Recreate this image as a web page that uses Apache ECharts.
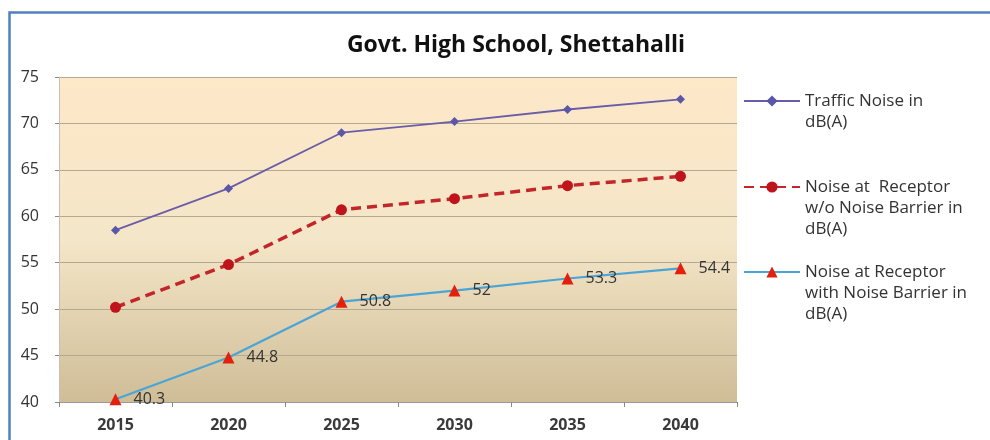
<!DOCTYPE html>
<html>
<head>
<meta charset="utf-8">
<script src="https://cdn.jsdelivr.net/npm/echarts@6/dist/echarts.min.js"></script>
<style>
  html, body { margin: 0; padding: 0; background: #fff; }
  #chart { width: 990px; height: 440px; }
</style>
</head>
<body>
<div id="chart"></div>
<script>
var years = ['2015', '2020', '2025', '2030', '2035', '2040'];
var trafficNoise = [58.5, 63.0, 69.0, 70.2, 71.5, 72.6];
var noWithoutBarrier = [50.2, 54.8, 60.7, 61.9, 63.3, 64.3];
var noWithBarrier = [40.3, 44.8, 50.8, 52, 53.3, 54.4];
var seriesNames = [
  'Traffic Noise in dB(A)',
  'Noise at  Receptor w/o Noise Barrier in dB(A)',
  'Noise at Receptor with Noise Barrier in dB(A)'
];
var legendLines = [
  ['Traffic Noise in', 'dB(A)'],
  ['Noise at  Receptor', 'w/o Noise Barrier in', 'dB(A)'],
  ['Noise at Receptor', 'with Noise Barrier in', 'dB(A)']
];

var myChart = echarts.init(document.getElementById('chart'));
var font = '"Open Sans", "Liberation Sans", sans-serif';
var LH = 21;

// legend text is centred on the icon, so pad with blank lines on top
// to bring the first line level with the icon
function makeLegend(i, iconY) {
  var lines = legendLines[i];
  var blanks = [];
  for (var k = 0; k < lines.length - 1; k++) blanks.push('');
  var total = blanks.length + lines.length;
  return {
    orient: 'vertical',
    left: 743,
    top: iconY - total * LH / 2,
    padding: 0,
    itemWidth: 56,
    itemHeight: 14,
    data: [seriesNames[i]],
    formatter: function () { return blanks.concat(lines).join('\n'); },
    textStyle: {
      fontFamily: font,
      fontSize: 17,
      color: '#333',
      lineHeight: LH
    }
  };
}

var option = {
  animation: false,
  title: {
    text: 'Govt. High School, Shettahalli',
    left: 511,
    textAlign: 'center',
    top: 29,
    textStyle: { fontFamily: font, fontSize: 23, fontWeight: 'bold', color: '#111' }
  },
  graphic: [{
    type: 'rect',
    left: 7,
    top: 10,
    z: -10,
    shape: { width: 1100, height: 600 },
    style: { fill: 'none', stroke: '#4f81bd', lineWidth: 2.5 }
  }],
  legend: [
    makeLegend(0, 101),
    makeLegend(1, 187),
    makeLegend(2, 272)
  ],
  grid: {
    left: 59,
    right: 253,
    top: 77,
    bottom: 38,
    show: true,
    borderWidth: 0,
    backgroundColor: new echarts.graphic.LinearGradient(0, 0, 0, 1, [
      { offset: 0, color: '#fde8c8' },
      { offset: 0.5, color: '#f4e6c8' },
      { offset: 1, color: '#cfbd97' }
    ])
  },
  xAxis: {
    type: 'category',
    data: years,
    boundaryGap: true,
    axisLine: { lineStyle: { color: '#9a9a9a' } },
    axisTick: { show: true, length: 5, lineStyle: { color: '#8a8a8a' } },
    axisLabel: { fontFamily: font, fontSize: 16, fontWeight: 'bold', color: '#3a3a3a', margin: 15 }
  },
  yAxis: {
    type: 'value',
    min: 40,
    max: 75,
    interval: 5,
    axisLine: { show: true, lineStyle: { color: '#c8c0b0' } },
    axisTick: { show: true, length: 4, lineStyle: { color: '#8a8a8a' } },
    axisLabel: { fontFamily: font, fontSize: 16, color: '#333', margin: 20 },
    splitLine: { lineStyle: { color: '#b3a891', width: 1 } }
  },
  series: [
    {
      name: seriesNames[0],
      type: 'line',
      data: trafficNoise,
      symbol: 'diamond',
      symbolSize: 9,
      lineStyle: { color: '#6a5ca8', width: 1.8 },
      itemStyle: { color: '#5a56a8' }
    },
    {
      name: seriesNames[1],
      type: 'line',
      data: noWithoutBarrier,
      symbol: 'circle',
      symbolSize: 11,
      lineStyle: { color: '#c3262a', width: 3.5, type: [10, 6] },
      itemStyle: { color: '#c0141c' }
    },
    {
      name: seriesNames[2],
      type: 'line',
      data: noWithBarrier,
      symbol: 'triangle',
      symbolSize: 12,
      lineStyle: { color: '#4aa5d6', width: 2.2 },
      itemStyle: { color: '#e4200c' },
      label: {
        show: true,
        position: 'right',
        distance: 12,
        fontFamily: font,
        fontSize: 16,
        color: '#333'
      }
    }
  ]
};

myChart.setOption(option);
</script>
</body>
</html>
